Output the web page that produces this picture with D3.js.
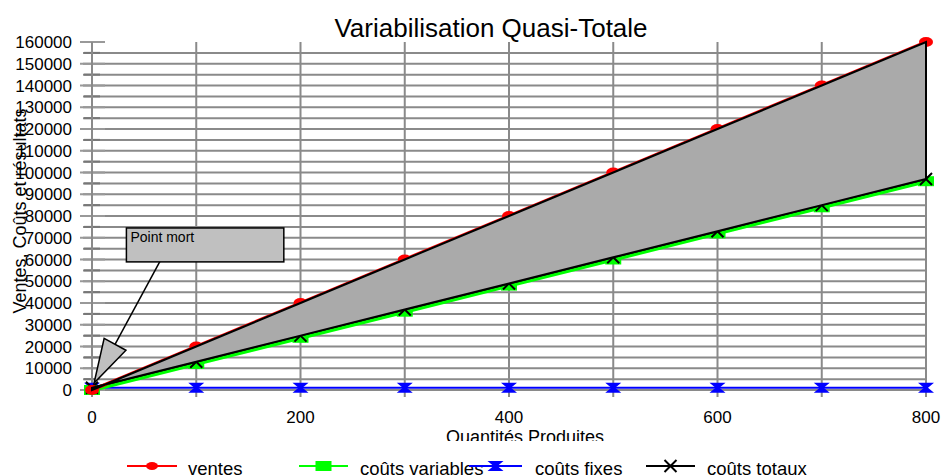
<!DOCTYPE html>
<html>
<head>
<meta charset="utf-8">
<script src="https://cdn.jsdelivr.net/npm/d3@7"></script>
<style>
html,body{margin:0;padding:0;background:#fff;}
svg{display:block;font-family:"Liberation Sans",Arial,sans-serif;}
</style>
</head>
<body>
<svg id="chart" width="942" height="475"></svg>
<script>
// ---- data ----
const title = "Variabilisation Quasi-Totale";
const xTitle = "Quantités Produites";
const yTitle = "Ventes, Coûts et résultats";
const quantites = [0, 100, 200, 300, 400, 500, 600, 700, 800];
const ventes = [0, 20000, 40000, 60000, 80000, 100000, 120000, 140000, 160000];
const coutsVariables = [0, 12000, 24000, 36000, 48000, 60000, 72000, 84000, 96000];
const coutsFixes = [1000, 1000, 1000, 1000, 1000, 1000, 1000, 1000, 1000];
const coutsTotaux = [1000, 13000, 25000, 37000, 49000, 61000, 73000, 85000, 97000];
const xTickValues = [0, 100, 200, 300, 400, 500, 600, 700, 800];
const yTickValues = [0, 10000, 20000, 30000, 40000, 50000, 60000, 70000, 80000, 90000,
  100000, 110000, 120000, 130000, 140000, 150000, 160000];
const yMinorValues = [5000, 15000, 25000, 35000, 45000, 55000, 65000, 75000, 85000, 95000,
  105000, 115000, 125000, 135000, 145000, 155000];
const legendLabels = ["ventes", "coûts variables", "coûts fixes", "coûts totaux"];
const annotationText = "Point mort";
// annotation placement in data units
const annBox = {x0: 33, y0: 74500, x1: 184, y1: 58900};
const annStart = {x: 67, y: 60700};
const annTip = {x: 2, y: 3200};

// ---- setup ----
const svg = d3.select("#chart");
const x = d3.scaleLinear().domain([0, 800]).range([92, 926]);
const y = d3.scaleLinear().domain([0, 160000]).range([390, 42]);
const gridColor = "#8a8a8a";

// grid lines (horizontal)
const gridH = yTickValues.concat(yMinorValues).filter(v => v < 160000);
svg.append("g").selectAll("line").data(gridH).join("line")
  .attr("x1", 83).attr("x2", 927)
  .attr("y1", d => y(d)).attr("y2", d => y(d))
  .attr("stroke", gridColor).attr("stroke-width", 2);
// major tick marks
svg.append("g").selectAll("line").data(yTickValues).join("line")
  .attr("x1", 80).attr("x2", 105)
  .attr("y1", d => y(d)).attr("y2", d => y(d))
  .attr("stroke", "#999").attr("stroke-width", 2);
// minor tick marks
svg.append("g").selectAll("line").data(yMinorValues).join("line")
  .attr("x1", 84).attr("x2", 100)
  .attr("y1", d => y(d)).attr("y2", d => y(d))
  .attr("stroke", "#777").attr("stroke-width", 2);
// vertical grid
svg.append("g").selectAll("line").data(xTickValues).join("line")
  .attr("x1", d => x(d)).attr("x2", d => x(d))
  .attr("y1", y(160000)).attr("y2", 397)
  .attr("stroke", gridColor).attr("stroke-width", 2);

// y tick labels
svg.append("g").selectAll("text").data(yTickValues).join("text")
  .attr("x", 72).attr("y", d => y(d) + 6)
  .attr("text-anchor", "end").attr("font-size", 17).attr("fill", "#000")
  .text(d => d);
// x tick labels
svg.append("g").selectAll("text").data(xTickValues.filter(d => d % 200 === 0)).join("text")
  .attr("x", d => x(d)).attr("y", 423)
  .attr("text-anchor", "middle").attr("font-size", 17).attr("fill", "#000")
  .text(d => d);

// titles
svg.append("text").attr("x", 491).attr("y", 37).attr("text-anchor", "middle")
  .attr("font-size", 26).attr("fill", "#000").text(title);
svg.append("defs").append("clipPath").attr("id", "xclip")
  .append("rect").attr("x", 0).attr("y", 0).attr("width", 942).attr("height", 441);
svg.append("text").attr("x", 525).attr("y", 443).attr("text-anchor", "middle")
  .attr("font-size", 18).attr("fill", "#000").attr("clip-path", "url(#xclip)").text(xTitle);
svg.append("text").attr("transform", "translate(25.5,211) rotate(-90)")
  .attr("text-anchor", "middle").attr("font-size", 18).attr("fill", "#000").text(yTitle);

// ---- series ----
const pts = arr => quantites.map((q, i) => [x(q), y(arr[i])]);
const line = d3.line();

// marker shapes
function hourglass(sel, w, h) {
  sel.attr("points", `${-w},${-h} ${w},${-h} ${w*0.25},0 ${w},${h} ${-w},${h} ${-w*0.25},0`);
}
function xmark(g, s, color) {
  g.append("path").attr("d", `M${-s},${-s}L${s},${s}M${-s},${s}L${s},${-s}`)
    .attr("stroke", color).attr("stroke-width", 2).attr("fill", "none");
}

// coûts fixes
svg.append("path").attr("d", line(pts(coutsFixes))).attr("fill", "none")
  .attr("stroke", "#0000ff").attr("stroke-width", 2);
svg.append("g").selectAll("polygon").data(pts(coutsFixes)).join("polygon")
  .attr("transform", d => `translate(${d[0]},${d[1]})`)
  .call(hourglass, 8, 5).attr("fill", "#0000ff");

// coûts variables
svg.append("path").attr("d", line(pts(coutsVariables))).attr("fill", "none")
  .attr("stroke", "#00ff00").attr("stroke-width", 4);
svg.append("g").selectAll("rect").data(pts(coutsVariables)).join("rect")
  .attr("x", d => d[0] - 8).attr("y", d => d[1] - 5).attr("width", 16).attr("height", 10)
  .attr("fill", "#00ff00");

// coûts totaux
svg.append("path").attr("d", line(pts(coutsTotaux))).attr("fill", "none")
  .attr("stroke", "#000").attr("stroke-width", 2);
svg.append("g").selectAll("g").data(pts(coutsTotaux)).join("g")
  .attr("transform", d => `translate(${d[0]},${d[1]})`)
  .each(function() { xmark(d3.select(this), 6, "#000"); });

// ventes
svg.append("path").attr("d", line(pts(ventes))).attr("fill", "none")
  .attr("stroke", "#ff0000").attr("stroke-width", 3.5);
svg.append("g").selectAll("ellipse").data(pts(ventes)).join("ellipse")
  .attr("cx", d => d[0]).attr("cy", d => d[1]).attr("rx", 7).attr("ry", 5)
  .attr("fill", "#ff0000");

// shaded result area between ventes and coûts totaux
const area = pts(ventes).concat(pts(coutsTotaux).reverse());
svg.append("path").attr("d", line(area) + "Z")
  .attr("fill", "#aaaaaa").attr("stroke", "#000").attr("stroke-width", 2)
  .attr("stroke-linejoin", "miter");

// ---- annotation ----
const bx0 = x(annBox.x0), by0 = y(annBox.y0), bx1 = x(annBox.x1), by1 = y(annBox.y1);
const sx = x(annStart.x), sy = y(annStart.y), tx = x(annTip.x), ty = y(annTip.y);
const dx = tx - sx, dy = ty - sy, len = Math.hypot(dx, dy);
const ux = dx / len, uy = dy / len;
const headLen = 44, headHalf = 12.4;
const bcx = tx - ux * headLen, bcy = ty - uy * headLen;
svg.append("line").attr("x1", sx).attr("y1", sy).attr("x2", bcx).attr("y2", bcy)
  .attr("stroke", "#000").attr("stroke-width", 1.5);
svg.append("polygon")
  .attr("points", `${tx},${ty} ${bcx - uy*headHalf},${bcy + ux*headHalf} ${bcx + uy*headHalf},${bcy - ux*headHalf}`)
  .attr("fill", "#c0c0c0").attr("stroke", "#000").attr("stroke-width", 1.5);
svg.append("rect").attr("x", bx0).attr("y", by0).attr("width", bx1 - bx0).attr("height", by1 - by0)
  .attr("fill", "#c0c0c0").attr("stroke", "#000").attr("stroke-width", 1.5);
svg.append("text").attr("x", bx0 + 4).attr("y", by0 + 14).attr("font-size", 14)
  .attr("fill", "#000").text(annotationText);

// ---- legend ----
const legendItems = [
  {label: legendLabels[0], color: "#ff0000", x0: 127, x1: 177, tx: 188, shape: "ellipse"},
  {label: legendLabels[1], color: "#00ff00", x0: 299, x1: 348, tx: 360, shape: "rect"},
  {label: legendLabels[2], color: "#0000ff", x0: 469, x1: 522, tx: 535, shape: "hourglass"},
  {label: legendLabels[3], color: "#000000", x0: 646, x1: 695, tx: 707, shape: "x"}
];
const ly = 466;
const lg = svg.append("g");
legendItems.forEach(it => {
  lg.append("line").attr("x1", it.x0).attr("x2", it.x1).attr("y1", ly).attr("y2", ly)
    .attr("stroke", it.color).attr("stroke-width", 2);
  const cx = (it.x0 + it.x1) / 2;
  if (it.shape === "ellipse") {
    lg.append("ellipse").attr("cx", cx).attr("cy", ly).attr("rx", 6).attr("ry", 4).attr("fill", it.color);
  } else if (it.shape === "rect") {
    lg.append("rect").attr("x", cx - 8).attr("y", ly - 5).attr("width", 16).attr("height", 10).attr("fill", it.color);
  } else if (it.shape === "hourglass") {
    lg.append("polygon").attr("transform", `translate(${cx},${ly})`).call(hourglass, 8, 5).attr("fill", it.color);
  } else {
    const g = lg.append("g").attr("transform", `translate(${cx},${ly})`);
    xmark(g, 6, it.color);
  }
  lg.append("text").attr("x", it.tx).attr("y", 475).attr("font-size", 18.5).attr("fill", "#000").text(it.label);
});
</script>
</body>
</html>
